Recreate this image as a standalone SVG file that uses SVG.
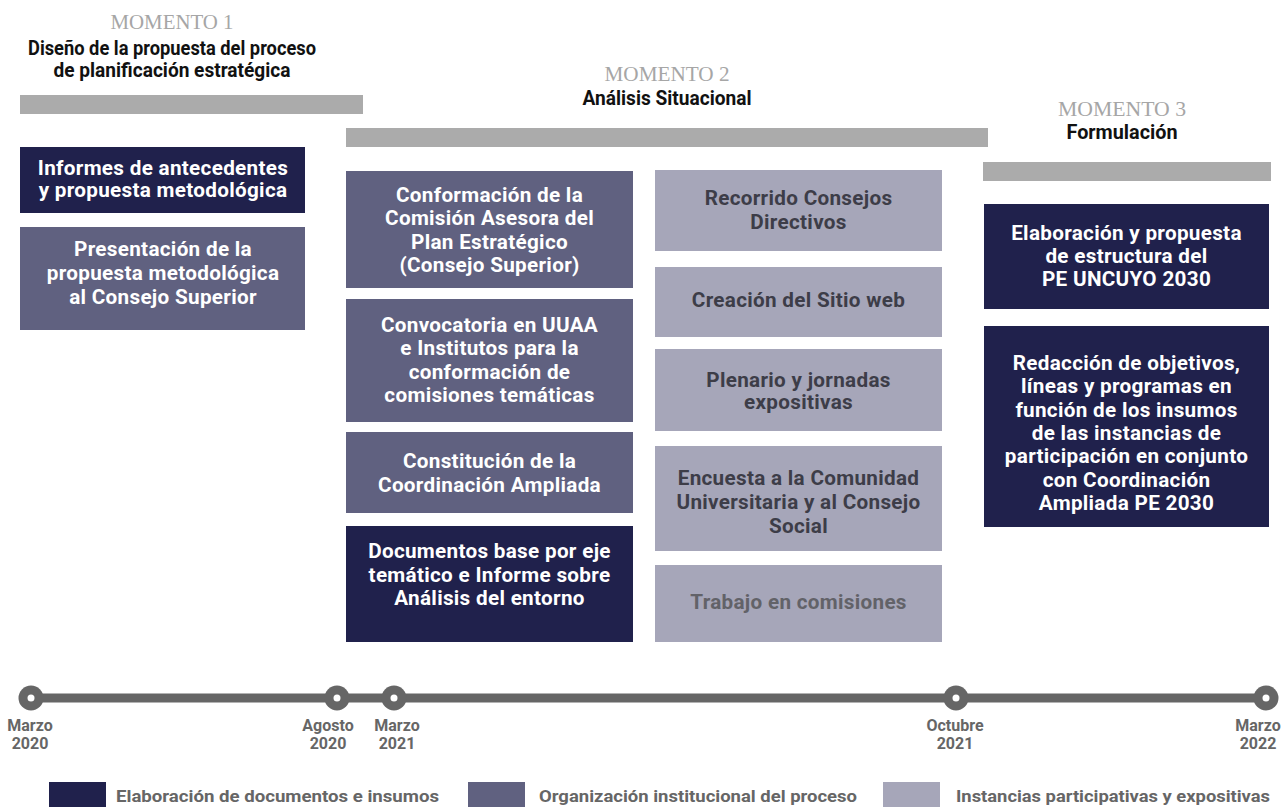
<svg xmlns="http://www.w3.org/2000/svg" width="1282" height="807" viewBox="0 0 1282 807">
<style>
.bg{fill:#ffffff}
.bar{fill:#ababab}
.mom{font-family:"Liberation Serif",serif;font-size:20.5px;fill:#a6a6a6;text-anchor:middle}
.hd{font-family:Roboto,"Liberation Sans",sans-serif;font-weight:700;font-size:20px;fill:#111111;text-anchor:middle}
.dark{fill:#20214c}
.mid{fill:#606180}
.light{fill:#a6a6b9}
.tw{font-family:Roboto,"Liberation Sans",sans-serif;font-weight:700;font-size:20.7px;letter-spacing:0.3px;fill:#ffffff;text-anchor:middle}
.tg{font-family:Roboto,"Liberation Sans",sans-serif;font-weight:700;font-size:20.7px;letter-spacing:0.3px;fill:#3d3d48;text-anchor:middle}
.tg2{font-family:Roboto,"Liberation Sans",sans-serif;font-weight:700;font-size:20.7px;letter-spacing:0.3px;fill:#626268;text-anchor:middle}
.tl{font-family:Roboto,"Liberation Sans",sans-serif;font-weight:700;font-size:16px;fill:#666666;text-anchor:middle}
.lg{font-family:Roboto,"Liberation Sans",sans-serif;font-weight:700;font-size:16.5px;fill:#666666}
.dot{fill:#666666}
.pin{fill:#ffffff}
</style>
<rect class="bg" x="0" y="0" width="1282" height="807"/>

<g id="momento1">
<text class="mom" x="172" y="29" textLength="123" lengthAdjust="spacingAndGlyphs">MOMENTO 1</text>
<text class="hd" x="172" y="55" textLength="288" lengthAdjust="spacingAndGlyphs">Diseño de la propuesta del proceso</text>
<text class="hd" x="172" y="77" textLength="237" lengthAdjust="spacingAndGlyphs">de planificación estratégica</text>
<rect class="bar" x="20" y="95" width="343" height="19"/>
</g>
<g id="momento2">
<text class="mom" x="667" y="81" textLength="125" lengthAdjust="spacingAndGlyphs">MOMENTO 2</text>
<text class="hd" x="667" y="105" textLength="169" lengthAdjust="spacingAndGlyphs">Análisis Situacional</text>
<rect class="bar" x="346" y="128" width="642" height="19"/>
</g>
<g id="momento3">
<text class="mom" x="1122" y="116" textLength="128" lengthAdjust="spacingAndGlyphs">MOMENTO 3</text>
<text class="hd" x="1122" y="139" textLength="111" lengthAdjust="spacingAndGlyphs">Formulación</text>
<rect class="bar" x="983" y="162" width="288" height="19"/>
</g>

<g id="n-informes">
<rect class="dark" x="20" y="147" width="285" height="66"/>
<text class="tw" x="163" y="175">Informes de antecedentes</text>
<text class="tw" x="163" y="197">y propuesta metodológica</text>
</g>
<g id="n-presentacion">
<rect class="mid" x="20" y="227" width="285" height="103"/>
<text class="tw" x="163" y="256">Presentación de la</text>
<text class="tw" x="163" y="280">propuesta metodológica</text>
<text class="tw" x="163" y="304">al Consejo Superior</text>
</g>

<g id="n-conformacion">
<rect class="mid" x="346" y="171" width="287" height="117"/>
<text class="tw" x="489.5" y="202">Conformación de la</text>
<text class="tw" x="489.5" y="225">Comisión Asesora del</text>
<text class="tw" x="489.5" y="248.5">Plan Estratégico</text>
<text class="tw" x="489.5" y="272">(Consejo Superior)</text>
</g>
<g id="n-convocatoria">
<rect class="mid" x="346" y="299" width="287" height="123"/>
<text class="tw" x="489.5" y="332">Convocatoria en UUAA</text>
<text class="tw" x="489.5" y="355">e Institutos para la</text>
<text class="tw" x="489.5" y="378.5">conformación de</text>
<text class="tw" x="489.5" y="402">comisiones temáticas</text>
</g>
<g id="n-constitucion">
<rect class="mid" x="346" y="432" width="287" height="81"/>
<text class="tw" x="489.5" y="468">Constitución de la</text>
<text class="tw" x="489.5" y="491.5">Coordinación Ampliada</text>
</g>
<g id="n-documentos">
<rect class="dark" x="346" y="526" width="287" height="116"/>
<text class="tw" x="489.5" y="558">Documentos base por eje</text>
<text class="tw" x="489.5" y="581.5">temático e Informe sobre</text>
<text class="tw" x="489.5" y="605">Análisis del entorno</text>
</g>

<g id="n-recorrido">
<rect class="light" x="655" y="170" width="287" height="81"/>
<text class="tg" x="798.5" y="205">Recorrido Consejos</text>
<text class="tg" x="798.5" y="229">Directivos</text>
</g>
<g id="n-sitio">
<rect class="light" x="655" y="267" width="287" height="70"/>
<text class="tg" x="798.5" y="307">Creación del Sitio web</text>
</g>
<g id="n-plenario">
<rect class="light" x="655" y="349" width="287" height="82"/>
<text class="tg" x="798.5" y="386.5">Plenario y jornadas</text>
<text class="tg" x="798.5" y="408.5">expositivas</text>
</g>
<g id="n-encuesta">
<rect class="light" x="655" y="446" width="287" height="105"/>
<text class="tg" x="798.5" y="485">Encuesta a la Comunidad</text>
<text class="tg" x="798.5" y="509">Universitaria y al Consejo</text>
<text class="tg" x="798.5" y="533">Social</text>
</g>
<g id="n-trabajo">
<rect class="light" x="655" y="565" width="287" height="77"/>
<text class="tg2" x="798.5" y="609">Trabajo en comisiones</text>
</g>

<g id="n-elaboracion">
<rect class="dark" x="984" y="204" width="285" height="105"/>
<text class="tw" x="1126.5" y="240">Elaboración y propuesta</text>
<text class="tw" x="1126.5" y="263">de estructura del</text>
<text class="tw" x="1126.5" y="286">PE UNCUYO 2030</text>
</g>
<g id="n-redaccion">
<rect class="dark" x="984" y="326" width="285" height="201"/>
<text class="tw" x="1126.5" y="370">Redacción de objetivos,</text>
<text class="tw" x="1126.5" y="393">líneas y programas en</text>
<text class="tw" x="1126.5" y="416.5">función de los insumos</text>
<text class="tw" x="1126.5" y="440">de las instancias de</text>
<text class="tw" x="1126.5" y="463">participación en conjunto</text>
<text class="tw" x="1126.5" y="486.5">con Coordinación</text>
<text class="tw" x="1126.5" y="510">Ampliada PE 2030</text>
</g>

<g id="connectors">
<line x1="30" y1="698" x2="1266" y2="698" stroke="#666666" stroke-width="9"/>
</g>

<g id="t-marzo2020">
<circle class="dot" cx="31" cy="698" r="12.5"/><circle class="pin" cx="31" cy="698" r="3.5"/>
<text class="tl" x="30" y="731">Marzo</text><text class="tl" x="30" y="749">2020</text>
</g>
<g id="t-agosto2020">
<circle class="dot" cx="337" cy="698" r="12.5"/><circle class="pin" cx="337" cy="698" r="3.5"/>
<text class="tl" x="328" y="731">Agosto</text><text class="tl" x="328" y="749">2020</text>
</g>
<g id="t-marzo2021">
<circle class="dot" cx="394" cy="698" r="12.5"/><circle class="pin" cx="394" cy="698" r="3.5"/>
<text class="tl" x="397" y="731">Marzo</text><text class="tl" x="397" y="749">2021</text>
</g>
<g id="t-octubre2021">
<circle class="dot" cx="956" cy="698" r="12.5"/><circle class="pin" cx="956" cy="698" r="3.5"/>
<text class="tl" x="955" y="731">Octubre</text><text class="tl" x="955" y="749">2021</text>
</g>
<g id="t-marzo2022">
<circle class="dot" cx="1266" cy="698" r="12.5"/><circle class="pin" cx="1266" cy="698" r="3.5"/>
<text class="tl" x="1258" y="731">Marzo</text><text class="tl" x="1258" y="749">2022</text>
</g>

<g id="legend">
<rect class="dark" x="49" y="782" width="57" height="25"/>
<text class="lg" x="116" y="802" textLength="323" lengthAdjust="spacingAndGlyphs">Elaboración de documentos e insumos</text>
<rect class="mid" x="468" y="782" width="57" height="25"/>
<text class="lg" x="539" y="802" textLength="318" lengthAdjust="spacingAndGlyphs">Organización institucional del proceso</text>
<rect class="light" x="883" y="782" width="57" height="25"/>
<text class="lg" x="956" y="802" textLength="314" lengthAdjust="spacingAndGlyphs">Instancias participativas y expositivas</text>
</g>
</svg>
